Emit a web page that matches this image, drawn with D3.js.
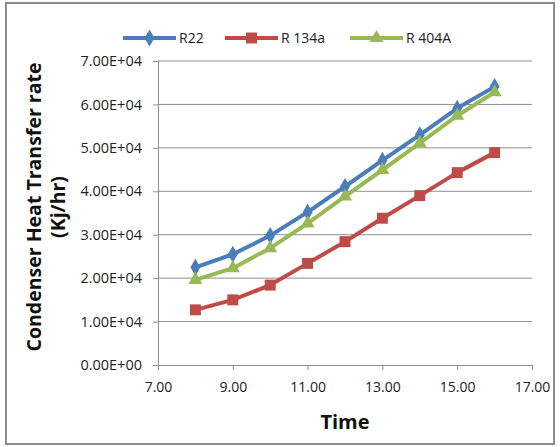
<!DOCTYPE html>
<html lang="en">
<head>
    <meta charset="UTF-8">
    <title>Condenser Heat Transfer rate</title>
    <script src="https://d3js.org/d3.v7.min.js"></script>
    <style>
        body { margin: 0; background: #fff; }
        svg { font-family: "Open Sans", Arial, sans-serif; }
    </style>
</head>
<body>
    <svg id="chart" width="560" height="447"></svg>

    <script>
        // Data
        const times = [8, 9, 10, 11, 12, 13, 14, 15, 16];
        const r22 = [22500, 25500, 29800, 35200, 41100, 47100, 53000, 59100, 64100];
        const r134a = [12700, 15000, 18400, 23400, 28400, 33800, 39000, 44300, 48900];
        const r404a = [19600, 22300, 26900, 32600, 38800, 44900, 51100, 57400, 62800];
        const seriesNames = ["R22", "R 134a", "R 404A"];
        const xTicks = [7, 9, 11, 13, 15, 17];
        const yTicks = [0, 10000, 20000, 30000, 40000, 50000, 60000, 70000];

        const svg = d3.select("#chart");
        const margin = { top: 61, right: 28, bottom: 82, left: 158 };
        const width = 560 - margin.left - margin.right;
        const height = 447 - margin.top - margin.bottom;

        // outer frame
        svg.append("rect")
            .attr("x", 6).attr("y", 3)
            .attr("width", 548).attr("height", 441)
            .attr("fill", "none")
            .attr("stroke", "#8c8c8c")
            .attr("stroke-width", 2);

        const chart = svg.append("g")
            .attr("transform", `translate(${margin.left},${margin.top})`);

        const x = d3.scaleLinear().domain([7, 17]).range([0, width]);
        const y = d3.scaleLinear().domain([0, 70000]).range([height, 0]);

        // gridlines
        chart.append("g")
            .selectAll("line")
            .data(yTicks.slice(1))
            .join("line")
            .attr("x1", 0).attr("x2", width)
            .attr("y1", d => y(d)).attr("y2", d => y(d))
            .attr("stroke", "#8f8f8f")
            .attr("stroke-width", 1);

        // axes
        const yAxis = chart.append("g")
            .call(d3.axisLeft(y).tickValues(yTicks).tickSize(5).tickPadding(11)
                .tickFormat(d => d.toExponential(2).toUpperCase().replace(/E\+(\d)$/, "E+0$1")));
        const xAxis = chart.append("g")
            .attr("transform", `translate(0,${height})`)
            .call(d3.axisBottom(x).tickValues(xTicks).tickSize(5).tickPadding(12)
                .tickFormat(d3.format(".2f")));

        [yAxis, xAxis].forEach(a => {
            a.select(".domain").attr("stroke", "#8f8f8f");
            a.selectAll(".tick line").attr("stroke", "#8f8f8f");
            a.selectAll("text").attr("font-size", 14.5).attr("fill", "#222")
                .attr("font-family", "Open Sans, Arial, sans-serif");
        });
        xAxis.selectAll("text").attr("font-size", 14);

        // axis titles
        svg.append("text")
            .attr("transform", `translate(41,207) rotate(-90)`)
            .attr("text-anchor", "middle")
            .attr("font-size", 19.5)
            .attr("font-weight", "bold")
            .attr("fill", "#111")
            .text("Condenser Heat Transfer rate");
        svg.append("text")
            .attr("transform", `translate(65,207) rotate(-90)`)
            .attr("text-anchor", "middle")
            .attr("font-size", 19.5)
            .attr("font-weight", "bold")
            .attr("fill", "#111")
            .text("(Kj/hr)");
        svg.append("text")
            .attr("x", margin.left + width / 2)
            .attr("y", 429)
            .attr("text-anchor", "middle")
            .attr("font-size", 20)
            .attr("font-weight", "bold")
            .attr("fill", "#111")
            .text("Time");

        // series
        const series = [
            { name: seriesNames[0], values: r22, color: "#4a7ebb", symbol: d3.symbolDiamond, size: 85 },
            { name: seriesNames[1], values: r134a, color: "#be4b48", symbol: d3.symbolSquare, size: 120 },
            { name: seriesNames[2], values: r404a, color: "#98b954", symbol: d3.symbolTriangle, size: 85 }
        ];

        const line = d3.line()
            .x(d => x(d[0]))
            .y(d => y(d[1]));

        // draw in order so green overlaps blue like the picture
        [series[1], series[0], series[2]].forEach(s => {
            const pts = times.map((t, i) => [t, s.values[i]]);
            chart.append("path")
                .datum(pts)
                .attr("fill", "none")
                .attr("stroke", s.color)
                .attr("stroke-width", 4)
                .attr("stroke-linejoin", "round")
                .attr("d", line);
            chart.append("g")
                .selectAll("path")
                .data(pts)
                .join("path")
                .attr("transform", d => `translate(${x(d[0])},${y(d[1])})`)
                .attr("d", d3.symbol().type(s.symbol).size(s.size))
                .attr("fill", s.color);
        });

        // legend
        const legendX = [123, 225, 350];
        const legend = svg.append("g")
            .selectAll("g")
            .data(series)
            .join("g")
            .attr("transform", (d, i) => `translate(${legendX[i]},38)`);
        legend.append("line")
            .attr("x1", 0).attr("x2", 53)
            .attr("stroke", d => d.color)
            .attr("stroke-width", 4);
        legend.append("path")
            .attr("transform", "translate(26.5,0)")
            .attr("d", d => d3.symbol().type(d.symbol).size(d.size)())
            .attr("fill", d => d.color);
        legend.append("text")
            .attr("x", 56)
            .attr("dy", "0.35em")
            .attr("font-size", 14)
            .attr("fill", "#222")
            .text(d => d.name);
    </script>
</body>
</html>
